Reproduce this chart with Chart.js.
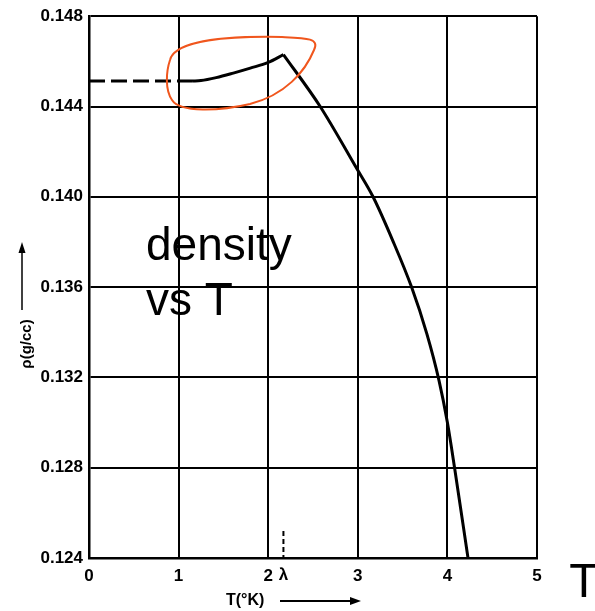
<!DOCTYPE html>
<html>
<head>
<meta charset="utf-8">
<script src="https://cdn.jsdelivr.net/npm/chart.js@4"></script>
<style>
  body { margin: 0; background: #fff; }
</style>
</head>
<body>
<canvas id="rhoChart" width="595" height="611"></canvas>
<script>
// data
const dashT = [0, 1.15];
const dashRho = [0.14513, 0.14513];
const riseT = [1.15, 1.25, 1.42, 1.61, 1.8, 2.0, 2.17];
const riseRho = [0.14513, 0.14515, 0.14528, 0.14548, 0.14570, 0.14595, 0.14630];
const fallT = [2.17, 2.58, 2.99, 3.17, 3.39, 3.60, 3.77, 3.906, 4.0, 4.08, 4.23];
const fallRho = [0.14630, 0.1440, 0.14124, 0.1400, 0.13806, 0.1360, 0.13394, 0.13187, 0.1300, 0.1280, 0.1240];
const xTicks = [0, 1, 2, 3, 4, 5];
const yTicks = [0.124, 0.128, 0.132, 0.136, 0.140, 0.144, 0.148];
const lambdaT = 2.17;

function pts(xs, ys) {
  return xs.map((x, i) => ({x: x, y: ys[i]}));
}

const extras = {
  id: 'extras',
  afterDraw(chart) {
    const c = chart.ctx;
    const xs = chart.scales.x;
    const lx = xs.getPixelForValue(lambdaT);
    c.save();
    c.fillStyle = '#000';
    c.strokeStyle = '#000';

    // lambda marker
    c.lineWidth = 2;
    c.setLineDash([5, 3]);
    c.beginPath();
    c.moveTo(lx, 531);
    c.lineTo(lx, 557);
    c.stroke();
    c.setLineDash([]);
    c.font = 'bold 17px "Liberation Sans", Arial';
    c.textAlign = 'center';
    c.textBaseline = 'middle';
    c.fillText('λ', lx, 575);

    // x title
    c.font = 'bold 16px "Liberation Sans", Arial';
    c.textAlign = 'left';
    c.textBaseline = 'middle';
    c.fillText('T(°K)', 226, 601);
    c.lineWidth = 2;
    c.beginPath();
    c.moveTo(280, 601);
    c.lineTo(352, 601);
    c.stroke();
    c.beginPath();
    c.moveTo(361, 601);
    c.lineTo(350, 597);
    c.lineTo(350, 605);
    c.closePath();
    c.fill();

    // y title
    c.save();
    c.translate(27, 344);
    c.rotate(-Math.PI / 2);
    c.font = 'bold 15px "Liberation Sans", Arial';
    c.textAlign = 'center';
    c.fillText('ρ(g/cc)', 0, 0);
    c.restore();
    c.lineWidth = 1.5;
    c.beginPath();
    c.moveTo(22, 310);
    c.lineTo(22, 250);
    c.stroke();
    c.beginPath();
    c.moveTo(22, 242);
    c.lineTo(18.5, 253);
    c.lineTo(25.5, 253);
    c.closePath();
    c.fill();

    // big T on the right
    c.font = '48px "Liberation Sans", Arial';
    c.textAlign = 'center';
    c.textBaseline = 'alphabetic';
    c.fillText('T', 584, 597);

    // handwritten note
    c.font = '46px "Liberation Sans", Arial';
    c.textAlign = 'left';
    c.fillText('density', 146, 260);
    c.fillText('vs T', 146, 315);

    // orange loop
    c.strokeStyle = '#f0561d';
    c.lineWidth = 2;
    c.beginPath();
    c.moveTo(170, 60);
    c.bezierCurveTo(175, 40, 230, 36, 282, 37);
    c.bezierCurveTo(306, 38, 320, 38, 314, 50);
    c.bezierCurveTo(305, 72, 285, 95, 250, 104);
    c.bezierCurveTo(220, 111, 180, 113, 172, 100);
    c.bezierCurveTo(165, 90, 166, 72, 170, 60);
    c.stroke();
    c.restore();
  }
};

const ctx = document.getElementById('rhoChart').getContext('2d');
const rhoChart = new Chart(ctx, {
  type: 'scatter',
  data: {
    datasets: [
      {data: pts(dashT, dashRho), showLine: true, borderColor: '#000', borderWidth: 3, borderDash: [16, 6], pointRadius: 0},
      {data: pts(riseT, riseRho), showLine: true, borderColor: '#000', borderWidth: 3, pointRadius: 0, cubicInterpolationMode: 'monotone'},
      {data: pts(fallT, fallRho), showLine: true, borderColor: '#000', borderWidth: 3, pointRadius: 0, cubicInterpolationMode: 'monotone'}
    ]
  },
  options: {
    responsive: false,
    animation: false,
    layout: {padding: {top: 15, right: 58, left: 0, bottom: 0}},
    plugins: {legend: {display: false}, tooltip: {enabled: false}},
    scales: {
      x: {
        type: 'linear', min: 0, max: 5,
        afterBuildTicks: s => { s.ticks = xTicks.map(v => ({value: v})); },
        afterFit: s => { s.height = 53; },
        grid: {color: '#000', lineWidth: 2, drawTicks: false},
        border: {color: '#000', width: 2.5},
        ticks: {color: '#000', padding: 8, font: {family: '"Liberation Sans", Arial', size: 17, weight: 'bold'}}
      },
      y: {
        type: 'linear', min: 0.124, max: 0.148,
        afterBuildTicks: s => { s.ticks = yTicks.map(v => ({value: v})); },
        afterFit: s => { s.width = 89; },
        grid: {color: '#000', lineWidth: 2, drawTicks: false},
        border: {color: '#000', width: 2.5},
        ticks: {color: '#000', padding: 6, font: {family: '"Liberation Sans", Arial', size: 17, weight: 'bold'},
          callback: v => v.toFixed(3)}
      }
    }
  },
  plugins: [extras]
});
</script>
</body>
</html>
